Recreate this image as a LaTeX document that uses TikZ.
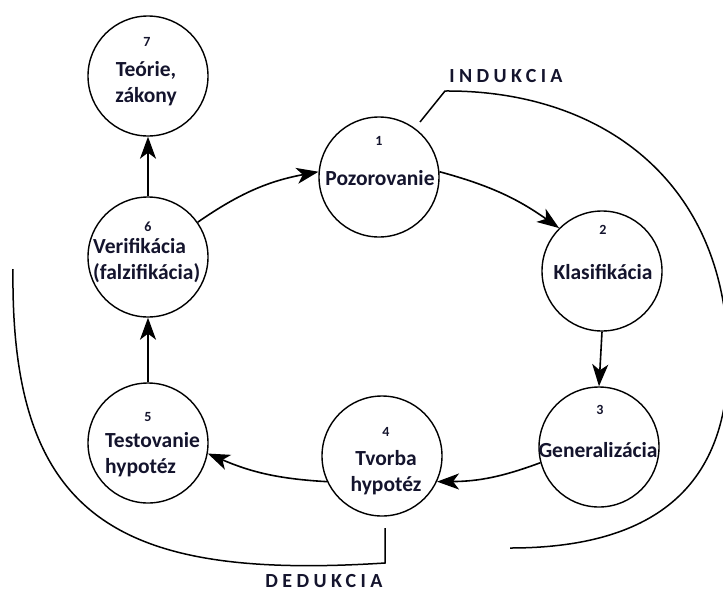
\documentclass[tikz,border=0pt]{standalone}
\usepackage{fontspec}
\setmainfont{Carlito}
\newfontfamily\spacedfont[LetterSpace=22]{Carlito}
\usetikzlibrary{arrows.meta}
\definecolor{ink}{RGB}{20,20,45}
\begin{document}
\begin{tikzpicture}[x=1pt,y=-1pt,
  stage/.style={circle, draw, line width=1.4pt, minimum size=120pt, inner sep=0pt},
  num/.style={font=\bfseries\fontsize{14}{14}\selectfont, text=ink, inner sep=0pt},
  lbl/.style={font=\bfseries\fontsize{21.5}{26}\selectfont, text=ink, inner sep=0pt},
  flow/.style={line width=1.6pt, -{Stealth[length=22pt,width=16pt,inset=6pt]}},
  brace/.style={line width=1.5pt},
  title/.style={font=\spacedfont\bfseries\fontsize{20}{20}\selectfont, text=ink, inner sep=0pt}]
\useasboundingbox[fill=white] (0,0) rectangle (723,592);

% circles
\node[stage] (n7) at (148,76) {};
\node[stage] (n1) at (379,177) {};
\node[stage] (n6) at (148,257) {};
\node[stage] (n2) at (602,271) {};
\node[stage] (n5) at (148,443) {};
\node[stage] (n4) at (382,456) {};
\node[stage] (n3) at (599,447) {};

% numbers
\node[num] (d7) at (147,42) {7};
\node[num] (d1) at (379,141) {1};
\node[num] (d6) at (148,227) {6};
\node[num] (d2) at (603,230) {2};
\node[num] (d5) at (148,417) {5};
\node[num] (d4) at (386,432) {4};
\node[num] (d3) at (600,410) {3};

% labels
\node[lbl, align=center] (t7) at (146,84) {Teórie,\\zákony};
\node[lbl] (t1) at (380,178) {Pozorovanie};
\node[lbl, align=left, anchor=west] (t6) at (93,261) {Verifikácia\\(falzifikácia)};
\node[lbl] (t2) at (603,272) {Klasifikácia};
\node[lbl, align=left, anchor=west] (t5) at (105,455) {Testovanie\\hypotéz};
\node[lbl, align=center] (t4) at (386,473) {Tvorba\\hypotéz};
\node[lbl] (t3) at (598,450) {Generalizácia};

% cycle arrows
\draw[flow] (n6.north) -- (n7.south);
\draw[flow] (n6.35) to[bend left=12] (n1.175);
\draw[flow] (n1.5) to[bend left=10] (n2.135);
\draw[flow] (n2.south) -- (n3.north);
\draw[flow] (n3.195) to[bend left=10] (n4.-25);
\draw[flow] (n4.205) to[bend left=10] (n5.-10);
\draw[flow] (n5.north) -- (n6.south);

% INDUKCIA bracket
\coordinate (i0) at (420,122);
\coordinate (i1) at (445,91);
\coordinate (i2) at (728,360);
\coordinate (i3) at (510,548);
\draw[brace] (i0) -- (i1) .. controls (600,90) and (728,180) .. (i2)
  .. controls (728,490) and (650,548) .. (i3);
\node[title, anchor=base] (ind) at (506,82) {INDUKCIA};

% DEDUKCIA bracket
\coordinate (e0) at (13,269);
\coordinate (e1) at (385,563);
\coordinate (e2) at (385,528);
\draw[brace] (e0) .. controls (10,520) and (120,580) .. (e1) -- (e2);
\node[title, anchor=base] (ded) at (324,587) {DEDUKCIA};
\end{tikzpicture}
\end{document}
